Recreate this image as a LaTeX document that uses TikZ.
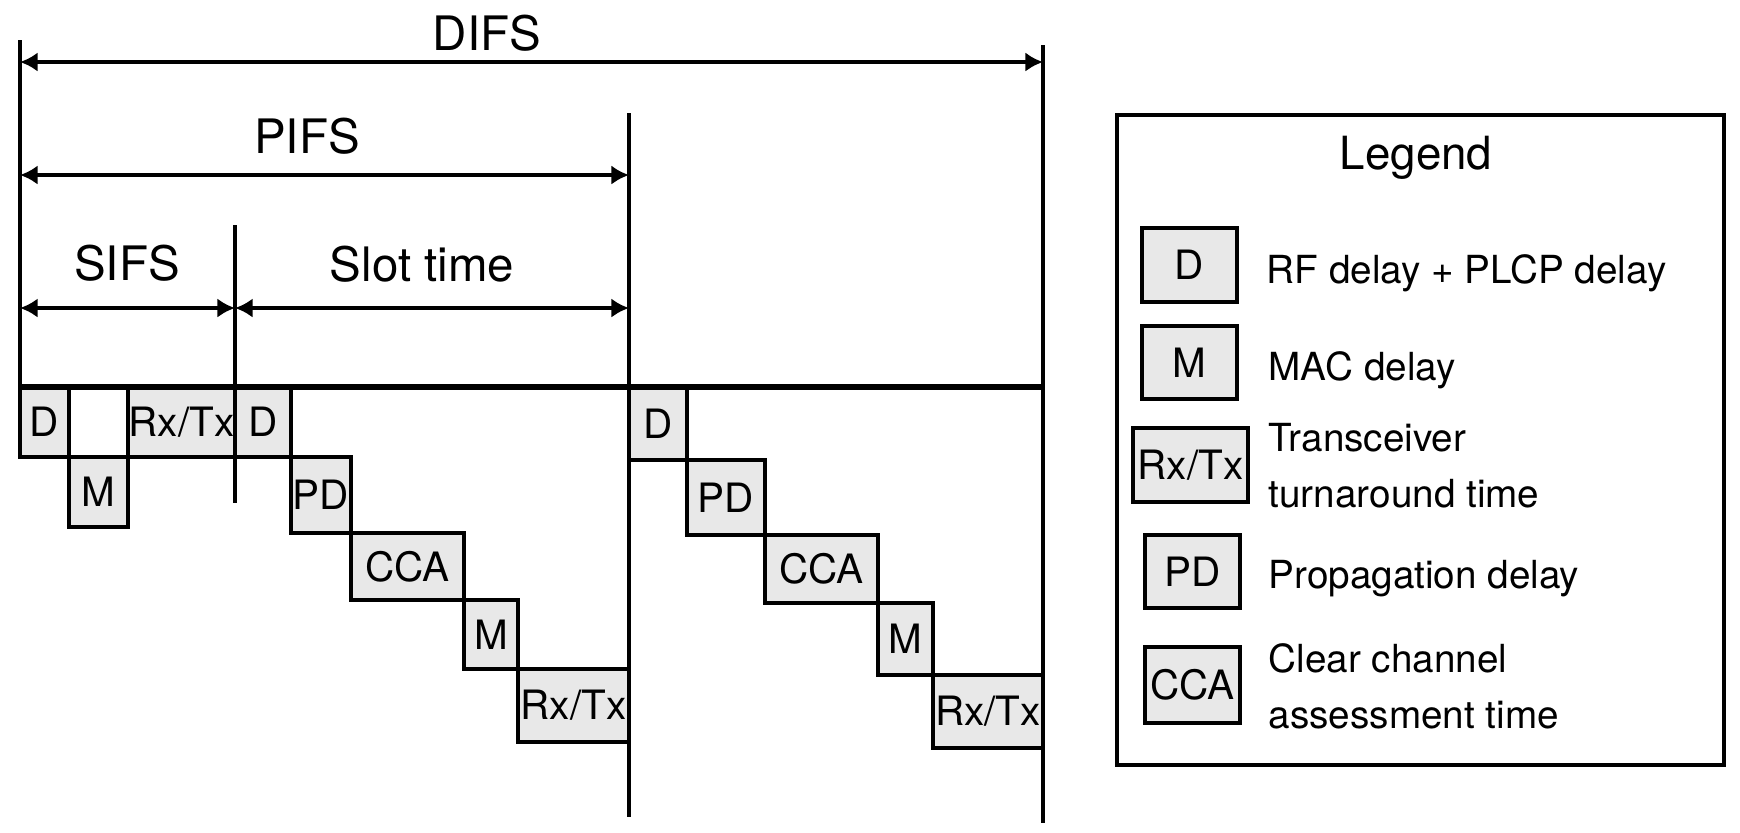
\documentclass[tikz,border=0pt]{standalone}
\usepackage{fontspec}
\setmainfont{TeX Gyre Heros}
\usetikzlibrary{arrows.meta,positioning}

\definecolor{cellgray}{gray}{0.91}
\newcommand{\dimfont}{\fontsize{13.5}{16}\selectfont}
\newcommand{\titlefont}{\fontsize{13}{16}\selectfont}
\newcommand{\cellfont}{\fontsize{11.5}{13}\selectfont}
\newcommand{\keyfont}{\fontsize{11}{15.9}\selectfont}

\tikzset{
    delaybox/.style 2 args={draw, fill=cellgray, line width=1.35pt, inner sep=0pt, outer sep=0pt,
        minimum width=#1*0.01cm, minimum height=#2*0.01cm, font=\cellfont},
    rule/.style={line width=1.2pt},
    dimline/.style={line width=1.3pt, <->},
    keytext/.style={font=\keyfont, inner sep=0pt},
}

\begin{document}
\begin{tikzpicture}[x=0.01cm, y=-0.01cm, >={Latex[length=5pt,width=5.5pt]}]
    \useasboundingbox (0,0) rectangle (1740,832);

    % SIFS and first slot time
    \node[delaybox={49}{70}, anchor=north west] (D1) at (20,387) {D};
    \node[delaybox={59}{70}, fill=white, anchor=north west] (gap) at (D1.north east) {};
    \node[delaybox={59}{70}, anchor=north west] (M1) at (gap.south west) {M};
    \node[delaybox={107}{70}, anchor=north west] (RT1) at (gap.north east) {Rx/Tx};
    \node[delaybox={56}{70}, anchor=north west] (D2) at (RT1.north east) {D};
    \node[delaybox={60}{76}, anchor=north west] (PD1) at (D2.south east) {PD};
    \node[delaybox={113}{67}, anchor=north west] (CCA1) at (PD1.south east) {CCA};
    \node[delaybox={54}{69}, anchor=north west] (M2) at (CCA1.south east) {M};
    \node[delaybox={111}{73}, anchor=north west] (RT2) at (M2.south east) {Rx/Tx};

    % second slot time
    \node[delaybox={58}{73}, anchor=north west] (D3) at (RT2.east |- D1.north) {D};
    \node[delaybox={78}{75}, anchor=north west] (PD2) at (D3.south east) {PD};
    \node[delaybox={113}{68}, anchor=north west] (CCA2) at (PD2.south east) {CCA};
    \node[delaybox={55}{72}, anchor=north west] (M3) at (CCA2.south east) {M};
    \node[delaybox={110}{73}, anchor=north west] (RT3) at (M3.south east) {Rx/Tx};

    \coordinate (difsTop) at (20,40);
    \coordinate (railR) at (1043,387);
    \coordinate (difsEndT) at (1043,45);
    \coordinate (difsEndB) at (1043,823);
    \coordinate (pifsEndT) at (629,113);
    \coordinate (pifsEndB) at (629,817);
    \coordinate (sifsEndT) at (235,225);
    \coordinate (sifsEndB) at (235,503);

    \draw[rule] (difsTop) -- (D1.south west);
    \draw[rule] (difsEndT) -- (difsEndB);
    \draw[rule] (pifsEndT) -- (pifsEndB);
    \draw[line width=0.9pt] (sifsEndT) -- (sifsEndB);
    \draw[line width=1.6pt] (D1.north west) -- (railR);

    \coordinate (difsA) at (20,62);
    \coordinate (difsB) at (1043,62);
    \coordinate (pifsA) at (20,175);
    \coordinate (pifsB) at (629,175);
    \coordinate (sifsA) at (20,308);
    \coordinate (sifsB) at (235,308);
    \coordinate (slotB) at (629,308);

    \draw[dimline] (difsA) -- (difsB);
    \draw[dimline] (pifsA) -- (pifsB);
    \draw[dimline] (sifsA) -- (sifsB);
    \draw[dimline] (sifsB) -- (slotB);

    \node[font=\dimfont, anchor=base] (difs) at (487,50) {DIFS};
    \node[font=\dimfont, anchor=base] (pifs) at (307,153) {PIFS};
    \node[font=\dimfont, anchor=base] (sifs) at (127,280) {SIFS};
    \node[font=\dimfont, anchor=base] (slot) at (422,281) {Slot time};

    % legend
    \node[draw, line width=1.2pt, minimum width=607*0.01cm, minimum height=650*0.01cm] (legend) at (1420.5,440) {};
    \node[font=\titlefont, anchor=base] (legendT) at (1416,169) {Legend};
    \node[delaybox={95}{74}] (kD) at (1189.5,265) {D};
    \node[delaybox={95}{73}] (kM) at (1189.5,362.5) {M};
    \node[delaybox={115}{74}] (kRT) at (1190.5,465) {Rx/Tx};
    \node[delaybox={95}{73}] (kPD) at (1192.5,571.5) {PD};
    \node[delaybox={95}{76}] (kCCA) at (1192.5,685) {CCA};
    \node[keytext, anchor=base west] (tD) at (1266,283) {RF delay + PLCP delay};
    \node[keytext, anchor=base west] (tM) at (1268,380) {MAC delay};
    \node[keytext, anchor=west, align=left] (tRT) at (1268,466) {Transceiver\\turnaround time};
    \node[keytext, anchor=base west] (tPD) at (1268,588) {Propagation delay};
    \node[keytext, anchor=west, align=left] (tCCA) at (1268,686) {Clear channel\\assessment time};
\end{tikzpicture}
\end{document}
